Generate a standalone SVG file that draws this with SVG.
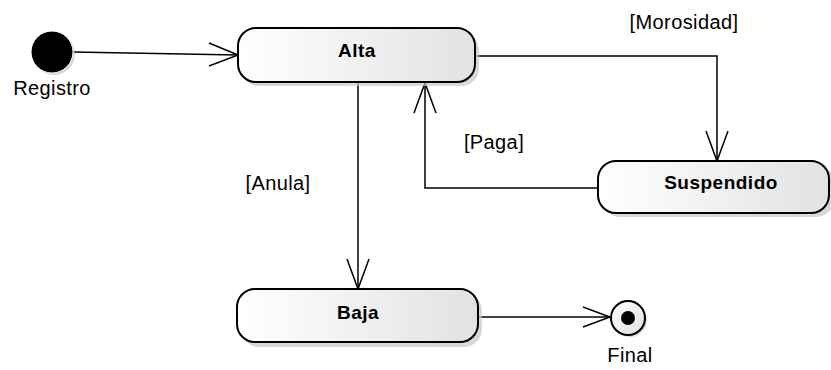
<svg xmlns="http://www.w3.org/2000/svg" width="831" height="370" viewBox="0 0 831 370">
<defs>
<linearGradient id="g" x1="0" y1="0" x2="1" y2="0">
<stop offset="0" stop-color="#ffffff"/>
<stop offset="1" stop-color="#e2e2e2"/>
</linearGradient>
<linearGradient id="gf" x1="0" y1="0" x2="1" y2="1">
<stop offset="0" stop-color="#ffffff"/>
<stop offset="1" stop-color="#e0e0e0"/>
</linearGradient>
</defs>
<style>
.st{fill:url(#g);stroke:#000;stroke-width:2}
.sh{fill:#c8c8c8;opacity:0.7}
.nm{font-family:"Liberation Sans",Arial,sans-serif;font-size:19px;font-weight:bold;letter-spacing:0.5px;text-anchor:middle;fill:#000}
.lb{font-family:"Liberation Sans",Arial,sans-serif;font-size:20px;letter-spacing:0.4px;text-anchor:middle;fill:#000}
.ln{fill:none;stroke:#000;stroke-width:1.5}
</style>
<g id="connectors">
<path class="ln" d="M73 52 L238 55"/>
<path class="ln" d="M209 43 L238 55 L209 66"/>
<path class="ln" d="M475 56 L717 56 L717 161"/>
<path class="ln" d="M706 131 L717 161 L728 131"/>
<text class="lb" x="684" y="29">[Morosidad]</text>
<path class="ln" d="M598 188 L425 188 L425 83"/>
<path class="ln" d="M414 113 L425 83 L436 113"/>
<text class="lb" x="494" y="149">[Paga]</text>
<path class="ln" d="M358 83 L358 289"/>
<path class="ln" d="M347 259 L358 289 L369 259"/>
<text class="lb" x="278" y="190">[Anula]</text>
<path class="ln" d="M478 317 L610 317"/>
<path class="ln" d="M583 307 L610 317 L583 327"/>
</g>
<g id="Registro">
<circle cx="54" cy="54" r="21" fill="#bbb" opacity="0.6"/>
<circle cx="52" cy="52" r="21" fill="#000" stroke="#fff" stroke-width="1"/>
<text class="lb" x="52" y="95">Registro</text>
</g>
<g id="Alta">
<rect class="sh" x="241" y="32" width="238" height="54" rx="18"/>
<rect class="st" x="238" y="28" width="237" height="54" rx="18"/>
<text class="nm" x="357" y="57">Alta</text>
</g>
<g id="Suspendido">
<rect class="sh" x="602" y="165" width="232" height="52" rx="18"/>
<rect class="st" x="598" y="161" width="231" height="52" rx="18"/>
<text class="nm" x="721" y="189">Suspendido</text>
</g>
<g id="Baja">
<rect class="sh" x="241" y="293" width="241" height="54" rx="18"/>
<rect class="st" x="237" y="289" width="241" height="53" rx="18"/>
<text class="nm" x="358" y="319">Baja</text>
</g>
<g id="Final">
<circle cx="630" cy="320" r="17" fill="#c8c8c8" opacity="0.7"/>
<circle cx="628" cy="318" r="17" fill="url(#gf)" stroke="#000" stroke-width="2"/>
<circle cx="628" cy="318" r="7" fill="#000"/>
<text class="lb" x="630" y="362">Final</text>
</g>
</svg>
